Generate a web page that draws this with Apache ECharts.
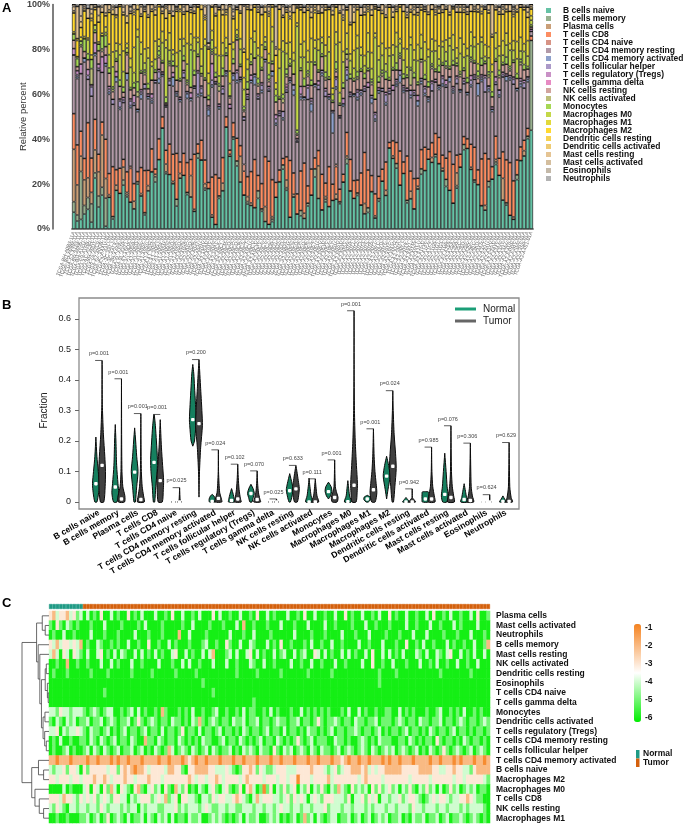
<!DOCTYPE html>
<html><head><meta charset="utf-8">
<script src="https://cdn.jsdelivr.net/npm/echarts@6/dist/echarts.min.js"></script>
<style>html,body{margin:0;padding:0;background:#fff}#c{width:685px;height:828px}</style>
</head><body><div id="c"></div><script>
const FONT = '"Liberation Sans", Arial, sans-serif';

const cellTypes = ['B cells naive','B cells memory','Plasma cells','T cells CD8','T cells CD4 naive','T cells CD4 memory resting','T cells CD4 memory activated','T cells follicular helper','T cells regulatory (Tregs)','T cells gamma delta','NK cells resting','NK cells activated','Monocytes','Macrophages M0','Macrophages M1','Macrophages M2','Dendritic cells resting','Dendritic cells activated','Mast cells resting','Mast cells activated','Eosinophils','Neutrophils'];
const cellColors = ['#66C2A5','#98B08F','#CA9F78','#FC8D62','#D79385','#B29AA8','#8DA0CB','#AB99C8','#C991C6','#E78AC3','#D1A49E','#BCBE79','#A6D854','#C4D848','#E1D93B','#FFD92F','#F6D251','#EECB72','#E5C494','#D4BE9E','#C4B9A9','#B3B3B3'];

const normalIds = 'TCGA-BH-A0B3 TCGA-BH-A0BM TCGA-E2-A153 TCGA-BH-A0H5 TCGA-BH-A1EU TCGA-E9-A1RB TCGA-AC-A23H TCGA-BH-A0DT TCGA-GI-A2C9 TCGA-A7-A0DB'.split(' ');
const tumorIds = ('TCGA-3C-AAAU TCGA-3C-AALI TCGA-3C-AALJ TCGA-3C-AALK TCGA-4H-AAAK TCGA-5L-AAT0 TCGA-5L-AAT1 TCGA-5T-A9QA TCGA-A1-A0SB TCGA-A1-A0SD ' +
 'TCGA-A1-A0SE TCGA-A1-A0SF TCGA-A1-A0SG TCGA-A1-A0SH TCGA-A1-A0SI TCGA-A1-A0SJ TCGA-A1-A0SK TCGA-A1-A0SM TCGA-A1-A0SN TCGA-A1-A0SO ' +
 'TCGA-A1-A0SP TCGA-A1-A0SQ TCGA-A2-A04N TCGA-A2-A04P TCGA-A2-A04Q TCGA-A2-A04R TCGA-A2-A04T TCGA-A2-A04U TCGA-A2-A04V TCGA-A2-A04W ' +
 'TCGA-A2-A04X TCGA-A2-A04Y TCGA-A2-A0CK TCGA-A2-A0CL TCGA-A2-A0CM TCGA-A2-A0CO TCGA-A2-A0CP TCGA-A2-A0CQ TCGA-A2-A0CR TCGA-A2-A0CS ' +
 'TCGA-A2-A0CT TCGA-A2-A0CU TCGA-A2-A0CV TCGA-A2-A0CW TCGA-A2-A0CX TCGA-A2-A0CY TCGA-A2-A0CZ TCGA-A2-A0D0 TCGA-A2-A0D1 TCGA-A2-A0D2 ' +
 'TCGA-A2-A0D3 TCGA-A2-A0D4 TCGA-A2-A0EM TCGA-A2-A0EN TCGA-A2-A0EO TCGA-A2-A0EP TCGA-A2-A0EQ TCGA-A2-A0ER TCGA-A2-A0ES TCGA-A2-A0ET ' +
 'TCGA-A2-A0EU TCGA-A2-A0EV TCGA-A2-A0EW TCGA-A2-A0EX TCGA-A2-A0EY TCGA-A2-A0SU TCGA-A2-A0SV TCGA-A2-A0SW TCGA-A2-A0SX TCGA-A2-A0T0 ' +
 'TCGA-A2-A0T1 TCGA-A2-A0T2 TCGA-A2-A0T3 TCGA-A2-A0T4 TCGA-A2-A0T5 TCGA-A2-A0T6 TCGA-A2-A0T7 TCGA-A2-A0YC TCGA-A2-A0YD TCGA-A2-A0YE ' +
 'TCGA-A2-A0YF TCGA-A2-A0YG TCGA-A2-A0YH TCGA-A2-A0YI TCGA-A2-A0YJ TCGA-A2-A0YK TCGA-A2-A0YL TCGA-A2-A0YM TCGA-A2-A0YT TCGA-A2-A1FV ' +
 'TCGA-A2-A1FW TCGA-A2-A1FX TCGA-A2-A1FZ TCGA-A2-A1G0 TCGA-A2-A1G1 TCGA-A2-A1G4 TCGA-A2-A1G6 TCGA-A2-A259 TCGA-A2-A25A TCGA-A2-A25B ' +
 'TCGA-A2-A25C TCGA-A2-A25D TCGA-A2-A25E TCGA-A2-A25F TCGA-A2-A3KC TCGA-A2-A3KD TCGA-A2-A3XS TCGA-A2-A3XT TCGA-A2-A3XU TCGA-A2-A3XV ' +
 'TCGA-A2-A3XW TCGA-A2-A3XX TCGA-A2-A3XY TCGA-A2-A3XZ TCGA-A2-A3Y0 TCGA-A2-A4RW TCGA-A2-A4RX TCGA-A2-A4RY TCGA-A2-A4S0 TCGA-A2-A4S1').split(' ');
const samples = normalIds.map(s => s + '-11A').concat(tumorIds.map(s => s + '-01A'));
const sampleGroup = samples.map((s, j) => j < normalIds.length ? 'Normal' : 'Tumor');

// ---- Panel A: estimated CIBERSORT fractions (%) per sample ----
const bNaive = [8,4,5,7,10,3,20,10,13,1,12,4,15,17,17,14,12,8,18,14,6,15,25,18,30,45,28,25,20,10,22,22,15,12,8,30,28,18,20,5,2,12,15,40,35,38,25,22,20,10,9,8,12,7,3,2,3,15,20,28,15,5,12,9,5,4,8,13,19,14,7,10,9,14,12,12,18,25,17,12,13,9,6,7,14,5,10,16,13,30,28,26,18,24,10,12,8,15,20,25,28,27,28,30,22,18,15,12,16,24,30,33,26,20,18,10,8,15,20,25,22,12,10,6,4,20,25,28,35,44];
const bMemory = [5,3,25,4,6,8,2,5,3,10,0,1,0,0,2,1,0,0,1,0,1,0,0,2,0,0,1,0,0,3,0,0,1,0,0,2,0,1,0,0,0,1,0,0,0,1,2,0,0,1,0,0,3,1,0,0,1,0,0,2,1,0,0,0,2,0,1,0,3,0,0,1,0,0,0,1,0,2,0,0,1,0,0,2,0,0,1,0,0,0,0,2,0,0,1,0,0,0,2,0,0,0,1,0,0,3,0,0,1,0,2,0,0,1,0,0,0,2,0,1,0,0,1,0,0,2,0,0,1,40];
const plasma = [25,15,8,12,10,5,9,11,20,7,1,0,2,0,5,1,0,3,0,1,0,2,0,1,0,0,4,0,1,0,2,0,0,8,1,0,0,2,0,1,0,0,3,0,1,0,0,12,0,2,1,0,0,0,6,0,1,0,0,0,3,0,1,0,0,2,0,0,0,15,0,1,0,0,2,0,0,1,0,0,0,0,4,0,0,1,0,0,2,0,1,0,0,0,0,3,0,1,0,0,0,2,0,0,1,0,0,0,5,0,0,0,1,0,0,0,2,0,0,1,0,9,0,0,1,0,0,2,0,0];
const cd8 = [17,20,13,10,28,15,12,8,5,14,8,20,6,12,3,9,15,7,4,11,18,6,10,2,9,5,7,14,12,20,5,9,13,6,25,4,8,11,3,16,22,7,10,4,2,6,9,5,14,8,12,18,6,10,20,27,15,7,5,3,9,24,8,12,15,19,6,10,4,7,13,5,16,8,11,6,3,9,14,7,5,12,20,16,6,10,8,4,11,2,6,9,14,5,17,8,12,3,7,10,4,6,8,12,5,9,15,18,7,5,3,4,10,14,6,20,22,8,5,9,7,11,18,23,15,6,5,4,3,2];
const cd4Naive = [0,0,0,0,0,0,0,0,0,0,0,0,0,0,0,0,1,0,0,0,0,0,0,0,0,0,0,0,0,0,0,0,0,0,0,0,0,0,0,0,0,0,0,0,0,0,0,0,4,0,0,0,0,0,0,0,0,0,0,0,0,0,0,0,0,0,0,0,0,0,0,0,0,0,1,0,0,0,0,0,0,0,0,0,0,0,0,0,0,0,0,0,0,0,0,0,0,0,0,0,0,0,0,0,0,0,0,0,0,0,0,0,0,0,0,0,0,0,0,0,0,0,0,0,0,0,0,0,0,0];
const cd4MemRest = [28,33,30,45,22,27,25,38,19,26,30,25,34,28,22,40,26,31,24,29,35,28,20,33,24,18,22,27,30,25,26,31,28,22,30,20,18,29,33,38,40,27,25,16,20,18,22,30,26,31,34,28,30,36,38,30,42,27,23,18,25,33,29,31,27,24,30,22,26,28,36,32,27,25,30,34,26,20,28,33,31,29,24,35,27,33,30,26,22,18,20,24,28,30,25,29,33,27,24,22,19,21,20,22,26,30,27,33,28,24,20,18,25,29,30,33,26,24,22,20,25,31,33,36,40,28,22,20,18,2];
const cd4MemAct = [0,1,0,2,0,0,1,0,0,1,1,0,2,1,0,3,1,0,1,2,0,1,1,0,2,1,0,0,4,1,1,0,2,1,0,1,1,0,3,1,0,1,0,1,0,2,1,1,0,0,1,3,0,1,1,0,2,1,0,1,0,1,2,0,1,1,0,3,1,0,1,0,1,10,1,0,1,2,0,1,1,1,0,0,2,1,1,0,1,0,0,1,3,1,0,1,0,2,1,1,1,0,0,1,1,0,2,1,0,1,0,1,1,0,5,1,0,1,1,0,1,0,2,1,0,1,1,0,1,0];
const tfh = [0,1,0,0,2,4,0,1,0,0,1,2,0,3,1,0,2,1,0,1,2,0,1,1,3,0,1,2,0,1,0,2,1,0,1,9,2,0,1,2,1,0,2,1,0,1,3,0,2,1,0,1,1,2,0,1,0,2,1,3,1,0,2,1,1,0,4,1,0,2,1,2,0,1,3,1,0,2,1,0,2,1,1,0,1,2,0,1,3,1,0,1,2,1,0,2,1,0,1,2,1,3,0,1,2,1,0,1,2,0,1,0,2,1,0,1,6,1,0,1,2,1,0,1,2,0,1,2,1,0];
const tregs = [3,2,5,0,3,1,4,2,6,3,1,0,2,1,1,0,1,3,0,1,0,1,2,0,1,1,0,1,2,0,1,1,0,2,0,1,1,0,1,7,0,1,1,0,2,0,1,1,0,1,2,0,1,1,0,1,0,2,1,0,1,1,0,1,3,0,1,1,0,2,0,1,1,0,1,0,2,1,1,0,1,0,1,2,0,1,1,0,1,1,2,1,0,1,1,0,1,2,0,1,0,1,1,0,1,2,0,1,1,0,1,0,2,1,0,1,1,0,1,2,0,1,1,0,1,0,1,1,0,1];
const gammaDelta = [0,0,0,0,0,0,0,0,0,0,0,0,0,0,0,0,0,0,0,0,0,0,0,0,0,0,0,0,0,0,0,0,0,0,0,0,0,0,0,0,0,0,0,0,0,0,0,0,0,0,0,0,0,0,0,0,0,0,0,0,1,0,0,0,0,0,0,0,0,0,0,0,0,0,0,0,0,0,0,0,0,0,0,0,0,0,0,0,0,0,0,0,0,0,0,0,0,0,0,0,0,0,0,0,0,0,0,0,0,0,0,0,0,0,0,0,0,0,0,0,0,0,0,0,0,0,0,0,0,0];
const nkRest = [4,2,9,3,5,0,4,6,2,3,5,3,4,6,2,8,4,3,5,7,4,2,6,3,5,4,1,6,3,5,7,4,3,2,5,6,4,8,3,4,2,5,4,6,3,4,12,5,3,2,4,6,3,5,4,2,3,6,5,4,3,5,4,2,6,4,3,5,7,4,5,3,6,4,2,5,4,3,6,5,4,7,3,5,4,6,2,4,5,3,6,4,5,3,4,2,5,4,6,3,4,5,3,6,4,5,3,10,4,5,3,4,6,5,2,4,5,3,4,6,5,3,4,2,6,4,5,4,3,1];
const nkAct = [0,0,1,0,0,7,0,0,1,0,0,1,0,0,0,1,0,0,2,0,1,0,0,0,1,0,0,1,0,0,0,0,1,0,0,0,1,0,0,1,0,2,0,0,1,0,0,0,1,0,0,0,1,0,0,1,0,0,0,2,1,0,0,1,0,0,1,0,0,0,0,1,0,0,1,0,0,2,0,0,1,0,0,0,1,0,0,1,0,0,0,0,1,0,0,6,0,0,1,0,0,1,0,0,0,1,0,0,0,1,0,0,1,0,1,0,0,1,0,0,1,0,0,1,0,0,1,0,0,0];
const monocytes = [3,4,2,6,3,4,1,3,5,4,2,1,1,3,2,0,1,2,4,1,1,2,0,1,2,1,3,1,2,0,1,2,1,14,2,1,0,1,2,1,2,1,3,1,0,2,1,1,2,3,1,0,2,1,1,2,1,3,1,2,2,1,0,2,1,3,1,2,1,1,1,2,1,1,3,1,2,0,2,1,2,1,2,1,1,0,2,1,3,1,1,3,1,2,1,1,2,1,0,2,2,1,1,3,1,2,1,2,1,1,1,2,1,1,2,3,1,1,2,1,2,1,3,1,1,2,1,2,1,1];
const m0 = [0,1,0,0,7,0,2,0,0,1,5,8,3,12,6,2,9,4,18,7,3,10,6,4,2,8,25,5,3,6,12,4,7,2,9,5,3,15,6,4,8,3,5,2,6,4,1,7,10,5,3,6,9,4,2,5,8,3,12,20,6,2,5,62,4,8,3,7,5,9,4,6,10,3,7,5,8,2,6,4,9,5,3,7,4,28,6,5,3,8,5,7,4,6,3,9,5,8,4,6,10,5,7,3,6,4,8,5,2,7,4,9,5,6,3,7,2,5,8,4,6,3,5,7,4,6,3,5,4,2];
const m1 = [1,0,2,1,1,2,0,1,1,2,4,6,3,5,8,2,4,10,3,5,6,4,2,7,3,5,4,8,2,6,5,3,9,4,6,2,7,3,5,4,3,8,5,4,6,3,2,5,7,4,6,4,3,5,2,4,6,3,8,5,4,7,3,2,5,6,4,9,3,5,2,4,6,3,5,24,4,6,3,7,5,3,4,8,6,2,5,4,6,3,4,6,2,5,7,3,4,6,5,8,3,5,4,6,2,5,3,7,4,6,5,3,6,4,8,2,5,4,3,6,4,6,5,3,4,7,5,3,6,2];
const m2 = [9,8,5,12,10,15,6,9,8,4,12,15,10,18,14,9,20,13,8,11,16,12,22,10,14,8,11,9,15,18,12,10,14,8,11,13,16,9,12,10,14,18,11,9,13,10,8,12,15,20,11,9,14,12,10,16,8,13,17,11,12,10,15,9,13,11,14,8,10,12,9,13,11,36,10,14,12,9,13,11,10,12,16,9,14,11,13,10,12,15,11,9,13,16,12,10,14,11,9,13,14,12,10,15,11,13,9,12,14,10,12,14,9,11,13,10,15,12,11,9,13,11,9,14,10,12,11,13,9,3];
const dcRest = [0,1,0,0,0,1,0,0,0,0,0,0,1,0,0,0,0,1,0,0,0,0,0,0,1,0,0,0,0,0,1,0,0,0,0,0,0,1,0,0,0,0,0,1,0,0,0,0,0,0,0,0,0,0,0,1,0,0,0,0,0,1,0,0,0,0,0,0,1,0,0,0,0,0,0,0,1,0,0,0,0,0,0,1,0,0,0,0,0,0,0,0,0,0,0,0,0,1,0,0,0,0,1,0,0,0,0,0,0,0,0,0,0,0,0,1,0,0,0,0,0,0,0,0,1,0,0,0,0,0];
const dcAct = [1,0,3,1,0,2,1,3,0,1,1,2,0,1,1,3,0,1,2,1,0,1,1,2,0,1,5,1,0,1,2,1,0,1,1,0,2,1,1,0,1,0,2,1,18,1,0,1,2,1,0,1,1,0,2,1,1,3,0,1,1,2,0,1,1,0,1,2,1,1,0,1,1,2,0,1,1,0,1,4,1,0,1,1,2,1,0,1,1,0,2,1,1,0,1,1,2,0,1,1,1,0,1,2,1,0,1,1,0,2,1,1,0,1,1,2,0,1,1,0,1,2,1,0,1,1,0,1,2,1];
const mastRest = [2,16,3,1,5,2,0,4,2,3,2,1,3,0,2,5,1,2,0,3,1,4,2,1,0,2,1,3,2,1,0,2,3,1,2,1,0,4,2,1,3,1,2,0,1,2,1,3,25,1,2,0,1,3,1,2,0,1,2,4,1,2,3,1,0,2,1,2,1,3,2,1,0,2,1,3,2,1,8,2,1,3,2,1,2,0,1,2,3,1,2,1,0,3,1,2,1,2,1,0,3,2,1,1,2,1,3,0,2,1,1,2,3,1,2,1,0,2,12,1,2,1,2,3,1,2,1,0,2,1];
const mastAct = [1,0,6,1,0,2,1,0,1,0,0,1,0,0,1,0,2,0,0,1,1,0,0,1,0,0,1,0,3,0,0,1,0,0,1,0,0,1,0,0,1,0,0,2,0,1,0,0,1,0,0,0,1,0,0,1,0,19,0,1,0,1,0,0,1,0,0,1,0,0,1,0,0,1,0,0,2,0,0,1,0,0,1,0,0,1,0,0,1,0,0,1,0,0,2,0,1,0,0,1,0,0,1,0,0,1,0,0,1,0,1,0,0,1,0,0,1,0,0,1,0,1,0,0,1,0,0,1,0,0];
const eosinophils = [0,0,0,0,0,0,0,0,0,0,0,0,0,0,0,0,0,0,0,0,0,0,0,0,0,0,0,0,0,0,0,0,0,0,0,0,0,0,0,0,0,0,0,0,0,2,0,0,0,0,0,0,0,0,0,0,0,0,0,0,0,0,0,0,0,0,0,0,0,0,0,0,0,0,0,0,0,0,0,0,0,0,0,0,0,0,0,0,0,0,0,0,0,0,0,0,0,1,0,0,0,0,0,0,0,0,0,0,0,0,0,0,0,0,0,0,0,0,0,0,0,0,0,0,0,0,0,0,0,0];
const neutrophils = [0,1,0,0,2,0,0,1,0,0,0,0,1,0,0,0,1,0,0,0,1,0,0,0,0,1,0,0,0,1,0,0,0,1,0,0,0,0,19,0,0,1,0,0,0,0,1,0,0,0,0,0,0,1,0,0,0,1,0,0,1,0,0,0,0,1,0,0,0,0,0,0,1,0,0,0,0,1,0,0,0,1,0,0,0,0,1,0,0,0,1,0,0,0,1,0,0,0,0,1,0,0,0,1,0,0,0,1,0,0,0,1,0,0,0,0,1,0,0,0,1,0,0,0,1,0,0,0,1,0];
const fractions = [bNaive,bMemory,plasma,cd8,cd4Naive,cd4MemRest,cd4MemAct,tfh,tregs,gammaDelta,nkRest,nkAct,monocytes,m0,m1,m2,dcRest,dcAct,mastRest,mastAct,eosinophils,neutrophils];
const sampleTotals = samples.map((s, j) => fractions.reduce((acc, arr) => acc + arr[j], 0));

// ---- Panel B: violin profiles [fraction, relative density], medians, p-values ----
const violinNormal = [
 [[0,.3],[.03,.8],[.06,1],[.1,.7],[.15,.3],[.213,0]],
 [[0,.5],[.03,1],[.06,.8],[.12,.4],[.2,.2],[.254,0]],
 [[0,.2],[.05,.6],[.1,1],[.15,.6],[.2,.3],[.243,0]],
 [[0,.2],[.05,.5],[.1,.9],[.14,1],[.2,.7],[.25,.4],[.287,.05]],
 [[0,.6],[.002,0]],
 [[.183,0],[.2,.5],[.25,.9],[.27,1],[.32,.8],[.38,.5],[.42,.3],[.451,0]],
 [[0,.8],[.01,.9],[.02,.5],[.025,0]],
 [[0,.9],[.01,.8],[.025,.5],[.044,0]],
 [[0,.3],[.015,.7],[.028,1],[.045,.6],[.058,0]],
 [[0,.6],[.001,0]],
 [[0,.2],[.02,.7],[.04,1],[.06,.7],[.093,0]],
 [[0,1],[.02,.6],[.05,.25],[.078,0]],
 [[.01,0],[.02,.6],[.035,1],[.05,.8],[.065,0]],
 [[0,1],[.02,.5],[.05,.2],[.07,0]],
 [[0,.3],[.008,1],[.016,.9],[.022,0]],
 [[.01,0],[.04,.4],[.085,1],[.12,.6],[.15,0]],
 [[0,1],[.008,.5],[.015,0]],
 [[0,.9],[.01,1],[.025,1],[.033,.9],[.034,0]],
 [[0,.6],[.02,1],[.05,.7],[.1,.4],[.16,0]],
 [[0,1],[.015,.7],[.035,.4],[.06,0]],
 [[0,.5],[.001,0]],
 [[0,1],[.01,.5],[.02,0]]
];
const violinTumor = [
 [[0,.5],[.05,.9],[.1,1],[.15,.8],[.22,.4],[.3,.12],[.34,.05],[.464,0]],
 [[0,.9],[.02,1],[.05,.4],[.1,.15],[.2,.06],[.404,0]],
 [[0,1],[.02,.8],[.05,.4],[.1,.15],[.2,.05],[.29,0]],
 [[0,.6],[.04,.9],[.07,1],[.12,.7],[.18,.35],[.27,0]],
 [[0,.6],[.003,.2],[.047,0]],
 [[.016,0],[.1,.15],[.18,.5],[.25,1],[.3,.85],[.38,.45],[.43,.2],[.467,0]],
 [[0,1],[.01,.9],[.03,.4],[.06,.2],[.1,.05],[.171,0]],
 [[0,1],[.01,.8],[.04,.4],[.08,.15],[.124,0]],
 [[0,1],[.01,.8],[.03,.4],[.06,.15],[.102,0]],
 [[0,.6],[.002,.2],[.01,0]],
 [[0,.4],[.02,.8],[.045,1],[.07,.7],[.1,.3],[.12,0]],
 [[0,1],[.02,.5],[.05,.2],[.076,0]],
 [[0,.7],[.015,1],[.03,.6],[.05,.2],[.138,0]],
 [[0,.6],[.03,.9],[.06,1],[.12,.7],[.2,.35],[.3,.12],[.45,.03],[.627,0]],
 [[0,.5],[.03,1],[.06,.8],[.1,.45],[.15,.2],[.24,0]],
 [[0,.2],[.05,.6],[.11,1],[.16,.8],[.22,.4],[.3,.12],[.365,0]],
 [[0,1],[.008,.5],[.015,.05],[.043,0]],
 [[0,1],[.02,.8],[.05,.35],[.1,.1],[.18,0]],
 [[0,1],[.02,.8],[.05,.4],[.1,.15],[.25,0]],
 [[0,1],[.02,.6],[.05,.25],[.193,0]],
 [[0,.5],[.003,.1],[.024,0]],
 [[0,1],[.015,.6],[.05,.2],[.195,0]]
];
const medianNormal = [.06,.049,.098,.13,0,.27,.002,.005,.028,0,.037,0,.034,.001,.01,.085,0,.01,.025,.008,0,.002];
const medianTumor = [.12,.01,.008,.07,0,.257,.012,.01,.008,0,.043,0,.015,.055,.04,.117,0,.01,.015,.005,0,.002];
const bracketTop = [.464,.404,.29,.287,.047,.467,.171,.124,.102,.01,.12,.076,.138,.627,.24,.365,.043,.18,.25,.193,.024,.195];
const pLabels = ['p=0.001','p=0.001','p=0.001','p=0.001','p=0.025','p=0.200','p=0.024','p=0.102','p=0.070','p=0.025','p=0.633','p=0.111','p=0.001','p=0.001','p=0.001','p=0.024','p=0.942','p=0.985','p=0.076','p=0.306','p=0.624','p=0.629'];

// ---- Panel C: heatmap rows (log-scaled fractions), clustered order ----
const heatRows = ['Plasma cells','Mast cells activated','Neutrophils','B cells memory','Mast cells resting','NK cells activated','Dendritic cells resting','Eosinophils','T cells CD4 naive','T cells gamma delta','Monocytes','Dendritic cells activated','T cells regulatory (Tregs)','T cells CD4 memory resting','T cells follicular helper','T cells CD4 memory activated','B cells naive','Macrophages M2','Macrophages M0','T cells CD8','NK cells resting','Macrophages M1'];
const hPlasma = [-3,-2,-4,-3,-3,-2,-4,-3,-5,-4,-6,-4,-6,-5,-6,-3,-6,-6,-4,-6,-5,-6,-6,-3,-6,-5,-6,-4,-6,-6,-6,-4,-6,-6,-5,-6,-3,-6,-6,-4,-6,-6,-5,-6,-4,-6,-6,-6,-3,-6,-4,-6,-6,-5,-6,-6,-4,-6,-6,-5,-6,-3,-6,-6,-4,-6,-5,-6,-6,-6,-4,-6,-6,-5,-6,-3,-6,-6,-4,-6,-6,-5,-6,-6,-4,-6,-6,-3,-6,-5,-6,-6,-4,-6,-6,-5,-6,-4,-6,-6,-3,-6,-5,-6,-6,-4,-6,-6,-5,-6,-6,-4,-6,-3,-6,-6,-5,-6,-4,-6,-6,-5,-6,-6,-4,-6,-3,-6,-6,-5];
const hMastAct = [-5,-6,-3,-5,-6,-4,-5,-6,-5,-6,-6,-6,-5,-6,-6,-6,-4,-6,-6,-6,-6,-5,-6,-6,-6,-6,-5,-6,-4,-6,-6,-6,-6,-5,-6,-6,-6,-6,-6,-5,-6,-6,-4,-6,-6,-6,-6,-5,-6,-6,-6,-5,-6,-6,-6,-4,-6,-2,-6,-6,-5,-6,-6,-6,-5,-6,-6,-6,-4,-6,-6,-6,-5,-6,-6,-6,-4,-6,-6,-6,-6,-4,-6,-6,-5,-6,-6,-6,-6,-5,-6,-6,-6,-4,-6,-6,-5,-6,-6,-6,-5,-6,-6,-6,-6,-4,-6,-6,-5,-6,-6,-6,-4,-6,-6,-5,-6,-6,-6,-4,-6,-5,-6,-6,-6,-6,-4,-6,-6,-6];
const hNeutro = [-6,-5,-6,-6,-4,-6,-6,-5,-6,-6,-6,-6,-4,-6,-6,-6,-5,-6,-6,-6,-5,-6,-6,-6,-6,-4,-6,-6,-6,-5,-6,-6,-6,-5,-6,-6,-6,-6,-2,-6,-6,-4,-6,-6,-6,-6,-5,-6,-6,-6,-6,-6,-6,-4,-6,-6,-6,-5,-6,-6,-4,-6,-6,-6,-6,-5,-6,-6,-6,-6,-6,-6,-4,-6,-6,-6,-6,-5,-6,-6,-6,-5,-6,-6,-6,-6,-4,-6,-6,-6,-5,-6,-6,-6,-4,-6,-6,-6,-6,-5,-6,-6,-6,-5,-6,-6,-6,-4,-6,-6,-6,-4,-6,-6,-6,-6,-5,-6,-6,-6,-5,-6,-6,-6,-4,-6,-6,-6,-5,-6];
const hBMemory = [-3,-4,-2,-4,-3,-3,-4,-3,-4,-2,-6,-5,-6,-6,-4,-5,-6,-6,-5,-6,-5,-6,-6,-4,-6,-6,-5,-6,-6,-3,-6,-6,-5,-6,-6,-4,-6,-5,-6,-6,-6,-5,-6,-6,-6,-5,-4,-6,-6,-5,-6,-6,-3,-5,-6,-6,-4,-6,-6,-4,-5,-6,-6,-6,-4,-6,-5,-6,-3,-6,-6,-5,-6,-6,-6,-5,-6,-4,-6,-6,-5,-6,-6,-4,-6,-6,-5,-6,-6,-6,-6,-4,-6,-6,-5,-6,-6,-6,-4,-6,-6,-6,-5,-6,-6,-3,-6,-6,-5,-6,-4,-6,-6,-5,-6,-6,-6,-4,-6,-5,-6,-6,-5,-6,-6,-4,-6,-6,-5,-2];
const hMastRest = [-4,-2,-4,-6,-3,-4,-6,-3,-4,-5,-6,-4,-6,-6,-4,-3,-6,-5,-6,-4,-6,-4,-5,-6,-6,-4,-6,-4,-6,-5,-6,-4,-6,-5,-6,-6,-4,-3,-6,-6,-4,-6,-5,-6,-6,-4,-6,-4,-2,-6,-6,-6,-5,-4,-6,-4,-6,-6,-4,-3,-6,-4,-6,-5,-6,-6,-4,-6,-5,-4,-6,-6,-4,-6,-5,-4,-6,-6,-3,-4,-6,-4,-6,-5,-6,-6,-4,-6,-4,-6,-5,-6,-6,-4,-6,-3,-6,-6,-4,-6,-4,-6,-5,-6,-4,-6,-6,-6,-4,-5,-6,-4,-6,-6,-4,-5,-6,-4,-3,-6,-6,-4,-6,-5,-6,-4,-6,-6,-4,-6];
const hNkAct = [-6,-6,-5,-6,-6,-2,-6,-6,-5,-6,-6,-5,-6,-6,-6,-4,-6,-6,-4,-6,-5,-6,-6,-6,-4,-6,-6,-5,-6,-6,-6,-6,-4,-6,-6,-6,-5,-6,-6,-4,-6,-4,-6,-6,-5,-6,-6,-6,-4,-6,-6,-6,-4,-6,-6,-5,-6,-6,-6,-4,-5,-6,-6,-4,-6,-6,-5,-6,-6,-6,-6,-4,-6,-6,-5,-6,-6,-4,-6,-6,-5,-6,-6,-6,-4,-6,-6,-5,-6,-6,-6,-6,-4,-6,-6,-3,-6,-6,-5,-6,-6,-4,-6,-6,-6,-5,-6,-6,-6,-4,-6,-6,-5,-6,-4,-6,-6,-5,-6,-6,-4,-6,-6,-5,-6,-6,-4,-6,-6,-6];
const hDcRest = [-6,-5,-6,-6,-6,-5,-6,-6,-6,-6,-6,-6,-5,-6,-6,-6,-6,-5,-6,-6,-6,-6,-6,-6,-5,-6,-6,-6,-6,-6,-5,-6,-6,-6,-6,-6,-6,-5,-6,-6,-6,-6,-6,-5,-6,-6,-6,-6,-6,-6,-6,-6,-6,-6,-6,-5,-6,-6,-6,-6,-6,-5,-6,-6,-6,-6,-6,-6,-5,-6,-6,-6,-6,-6,-6,-6,-5,-6,-6,-6,-6,-6,-6,-5,-6,-6,-6,-6,-6,-6,-6,-6,-6,-6,-6,-6,-6,-5,-6,-6,-6,-6,-5,-6,-6,-6,-6,-6,-6,-6,-6,-6,-6,-6,-6,-5,-6,-6,-6,-6,-6,-6,-6,-6,-5,-6,-6,-6,-6,-6];
const hEos = [-6,-6,-6,-6,-6,-6,-6,-6,-6,-6,-6,-6,-6,-6,-6,-6,-6,-6,-6,-6,-6,-6,-6,-6,-6,-6,-6,-6,-6,-6,-6,-6,-6,-6,-6,-6,-6,-6,-6,-6,-6,-6,-6,-6,-6,-5,-6,-6,-6,-6,-6,-6,-6,-6,-6,-6,-6,-6,-6,-6,-6,-6,-6,-6,-6,-6,-6,-6,-6,-6,-6,-6,-6,-6,-6,-6,-6,-6,-6,-6,-6,-6,-6,-6,-6,-6,-6,-6,-6,-6,-6,-6,-6,-6,-6,-6,-6,-5,-6,-6,-6,-6,-6,-6,-6,-6,-6,-6,-6,-6,-6,-6,-6,-6,-6,-6,-6,-6,-6,-6,-6,-6,-6,-6,-6,-6,-6,-6,-6,-6];
const hCd4Naive = [-6,-6,-6,-6,-6,-6,-6,-6,-6,-6,-6,-6,-6,-6,-6,-6,-5,-6,-6,-6,-6,-6,-6,-6,-6,-6,-6,-6,-6,-6,-6,-6,-6,-6,-6,-6,-6,-6,-6,-6,-6,-6,-6,-6,-6,-6,-6,-6,-5,-6,-6,-6,-6,-6,-6,-6,-6,-6,-6,-6,-6,-6,-6,-6,-6,-6,-6,-6,-6,-6,-6,-6,-6,-6,-6,-6,-6,-6,-6,-6,-6,-6,-6,-6,-6,-6,-6,-6,-6,-6,-6,-6,-6,-6,-6,-6,-6,-6,-6,-6,-6,-6,-6,-6,-6,-6,-6,-6,-6,-6,-6,-6,-6,-6,-6,-6,-6,-6,-6,-6,-6,-6,-6,-6,-6,-6,-6,-6,-6,-6];
const hGammaDelta = [-6,-6,-6,-6,-6,-6,-6,-6,-6,-6,-6,-6,-6,-6,-6,-6,-6,-6,-6,-6,-6,-6,-6,-6,-6,-6,-6,-6,-6,-6,-6,-6,-6,-6,-6,-6,-6,-6,-6,-6,-6,-6,-6,-6,-6,-6,-6,-6,-6,-6,-6,-6,-6,-6,-6,-6,-6,-6,-6,-6,-5,-6,-6,-6,-6,-6,-6,-6,-6,-6,-6,-6,-6,-6,-6,-6,-6,-6,-6,-6,-6,-6,-6,-6,-6,-6,-6,-6,-6,-6,-6,-6,-6,-6,-6,-6,-6,-6,-6,-6,-6,-6,-6,-6,-6,-6,-6,-6,-6,-6,-6,-6,-6,-6,-6,-6,-6,-6,-6,-6,-6,-6,-6,-6,-6,-6,-6,-6,-6,-6];
const hMono = [-4,-4,-5,-3,-4,-4,-5,-4,-4,-4,-5,-6,-5,-4,-5,-6,-5,-4,-4,-6,-6,-5,-6,-5,-4,-6,-4,-6,-5,-6,-6,-5,-6,-2,-5,-6,-6,-6,-5,-6,-5,-6,-4,-6,-6,-5,-6,-6,-5,-4,-6,-6,-5,-6,-6,-5,-6,-4,-6,-5,-5,-6,-6,-5,-6,-4,-6,-5,-6,-6,-6,-5,-6,-6,-4,-6,-5,-6,-5,-6,-5,-6,-5,-6,-6,-6,-5,-6,-4,-6,-6,-4,-6,-5,-6,-6,-5,-6,-6,-5,-5,-6,-6,-4,-6,-5,-6,-5,-6,-6,-6,-5,-6,-6,-5,-4,-6,-6,-5,-6,-5,-6,-4,-6,-6,-5,-6,-5,-6,-6];
const hDcAct = [-5,-6,-4,-5,-6,-4,-5,-4,-6,-5,-5,-4,-6,-5,-5,-4,-6,-5,-4,-5,-6,-5,-5,-4,-6,-5,-3,-5,-6,-5,-4,-5,-6,-5,-5,-6,-4,-5,-5,-6,-5,-6,-4,-5,-2,-5,-6,-5,-4,-5,-6,-5,-5,-6,-4,-5,-5,-4,-6,-5,-5,-4,-6,-5,-5,-6,-5,-4,-5,-5,-6,-5,-5,-4,-6,-5,-5,-6,-5,-3,-5,-6,-5,-5,-4,-5,-6,-5,-5,-6,-4,-5,-5,-6,-5,-5,-4,-6,-5,-5,-5,-6,-5,-4,-5,-6,-5,-5,-6,-4,-5,-5,-6,-5,-5,-4,-6,-5,-5,-6,-5,-4,-5,-6,-5,-5,-6,-5,-4,-5];
const hTregs = [-4,-4,-3,-6,-4,-5,-4,-4,-3,-4,-5,-6,-4,-5,-5,-6,-5,-4,-6,-5,-6,-5,-4,-6,-5,-5,-6,-5,-4,-6,-5,-5,-6,-4,-6,-5,-5,-6,-5,-3,-6,-5,-5,-6,-4,-6,-5,-5,-6,-5,-4,-6,-5,-5,-6,-5,-6,-4,-5,-6,-5,-5,-6,-5,-4,-6,-5,-5,-6,-4,-6,-5,-5,-6,-5,-6,-4,-5,-5,-6,-5,-6,-5,-4,-6,-5,-5,-6,-5,-5,-4,-5,-6,-5,-5,-6,-5,-4,-6,-5,-6,-5,-5,-6,-5,-4,-6,-5,-5,-6,-5,-6,-4,-5,-6,-5,-5,-6,-5,-4,-6,-5,-5,-6,-5,-6,-5,-5,-6,-5];
const hCd4MemRest = [-6,-5,-6,-4,-6,-6,-5,-6,-6,-5,-5,-6,-4,-5,-6,-4,-5,-6,-5,-4,-6,-5,-5,-6,-4,-5,-6,-6,-2,-5,-5,-6,-4,-5,-6,-5,-5,-6,-4,-5,-6,-5,-6,-5,-6,-4,-5,-5,-6,-6,-5,-4,-6,-5,-5,-6,-4,-5,-6,-5,-6,-5,-4,-6,-5,-5,-6,-4,-5,-6,-5,-6,-5,-3,-5,-6,-5,-4,-6,-5,-5,-5,-6,-6,-4,-5,-5,-6,-5,-6,-6,-5,-4,-5,-6,-5,-6,-4,-5,-5,-5,-6,-6,-5,-5,-6,-4,-5,-6,-5,-6,-5,-5,-6,-3,-5,-6,-5,-5,-6,-5,-6,-4,-5,-6,-5,-5,-6,-5,-6];
const hTfh = [-6,-5,-6,-6,-5,-4,-6,-5,-6,-6,-5,-4,-6,-4,-5,-6,-4,-5,-6,-5,-4,-6,-5,-5,-4,-6,-5,-4,-6,-5,-6,-4,-5,-6,-5,-2,-4,-6,-5,-4,-5,-6,-4,-5,-6,-5,-4,-6,-4,-5,-6,-5,-5,-4,-6,-5,-6,-4,-5,-4,-5,-6,-4,-5,-5,-6,-3,-5,-6,-4,-5,-4,-6,-5,-4,-5,-6,-4,-5,-6,-4,-5,-5,-6,-5,-4,-6,-5,-4,-5,-6,-5,-4,-5,-6,-4,-5,-6,-5,-4,-5,-4,-6,-5,-4,-5,-6,-5,-4,-6,-5,-6,-4,-5,-6,-5,-3,-5,-6,-5,-4,-5,-6,-5,-4,-6,-5,-4,-5,-6];
const hCd4MemAct = [-2,-2,-1,-2,-2,-2,-1,-2,-2,-2,-2,-1,-2,-2,-1,-2,-2,-2,-1,-2,-1,-2,-2,-1,-2,-2,-2,-1,-2,-2,-2,-2,-1,-2,-2,-1,-2,-2,-2,-1,-2,-3,-2,-1,-2,-2,-1,-2,-2,-2,-1,-2,-2,-2,-1,-2,-2,-1,-2,-2,-2,-1,-2,-2,-2,-1,-2,-2,-1,-2,-2,-2,-1,-2,-2,-2,-1,-2,-2,-1,-2,-2,-2,-1,-2,-2,-3,-2,-1,-2,-2,-1,-2,-2,-1,-2,-2,-2,-1,-2,-1,-2,-2,-1,-2,-2,-2,-1,-2,-2,-2,-2,-1,-2,-2,-1,-2,-2,-2,-1,-2,-1,-2,-2,-2,-1,-2,-2,-1,-2];
const hBNaive = [-4,-5,-4,-4,-3,-5,-3,-3,-4,-6,-3,-5,-3,-3,-3,-3,-3,-4,-3,-3,-5,-3,-2,-3,-2,-1,-2,-2,-3,-4,-3,-3,-3,-3,-4,-2,-2,-3,-3,-5,-6,-3,-3,-2,-2,-2,-2,-3,-3,-4,-4,-4,-3,-4,-5,-6,-5,-3,-3,-2,-3,-5,-3,-4,-5,-5,-4,-3,-3,-3,-4,-4,-4,-3,-3,-3,-3,-2,-3,-3,-3,-4,-5,-4,-3,-5,-4,-3,-3,-2,-2,-2,-3,-2,-4,-3,-4,-3,-3,-2,-2,-2,-2,-2,-3,-3,-3,-3,-3,-2,-2,-2,-2,-3,-3,-4,-4,-3,-3,-2,-3,-3,-4,-4,-5,-3,-2,-2,-2,-2];
const hM2 = [-3,-3,-4,-3,-3,-3,-4,-3,-3,-4,-3,-3,-3,-2,-3,-3,-2,-3,-4,-3,-3,-3,-2,-3,-3,-4,-3,-3,-3,-2,-3,-3,-3,-4,-3,-3,-3,-3,-3,-3,-3,-2,-3,-4,-3,-3,-4,-3,-3,-2,-3,-4,-3,-3,-3,-3,-4,-3,-2,-3,-3,-3,-3,-4,-3,-3,-3,-4,-3,-3,-4,-3,-3,-1,-3,-3,-3,-4,-3,-3,-3,-3,-2,-4,-3,-3,-3,-3,-3,-3,-3,-4,-3,-2,-3,-3,-3,-3,-4,-3,-3,-3,-3,-3,-3,-3,-4,-3,-3,-3,-3,-3,-4,-3,-3,-3,-3,-3,-3,-4,-3,-3,-4,-3,-3,-3,-3,-3,-4,-5];
const hM0 = [-6,-6,-6,-6,-4,-6,-5,-6,-6,-6,-4,-3,-6,-3,-4,-6,-3,-5,-2,-4,-6,-3,-4,-5,-6,-3,-2,-5,-6,-4,-3,-5,-4,-6,-3,-5,-6,-2,-4,-5,-3,-6,-5,-6,-4,-5,-6,-4,-3,-5,-6,-4,-3,-5,-6,-5,-3,-6,-3,-2,-4,-6,-5,-1,-5,-3,-6,-4,-5,-3,-5,-4,-3,-6,-4,-5,-3,-6,-4,-5,-3,-5,-6,-4,-5,-2,-4,-5,-6,-3,-5,-4,-5,-4,-6,-3,-5,-3,-5,-4,-3,-5,-4,-6,-4,-5,-3,-5,-6,-4,-5,-3,-5,-4,-6,-4,-6,-5,-3,-5,-4,-6,-5,-4,-5,-4,-6,-5,-5,-6];
const hCd8 = [-3,-3,-3,-4,-2,-3,-3,-4,-5,-3,-4,-3,-4,-3,-5,-4,-3,-4,-5,-3,-3,-4,-4,-6,-4,-5,-4,-3,-3,-3,-5,-4,-3,-4,-2,-5,-4,-3,-6,-3,-3,-4,-4,-5,-6,-4,-4,-5,-3,-4,-3,-3,-4,-4,-3,-2,-3,-4,-5,-6,-4,-2,-4,-3,-3,-3,-4,-4,-5,-4,-3,-5,-3,-4,-3,-4,-6,-4,-3,-4,-5,-3,-3,-3,-4,-4,-4,-5,-3,-6,-4,-4,-3,-5,-3,-4,-3,-6,-4,-4,-5,-4,-4,-3,-5,-4,-3,-3,-4,-5,-6,-5,-4,-3,-4,-3,-3,-4,-5,-4,-4,-3,-3,-2,-3,-4,-5,-5,-6,-6];
const hNkRest = [-4,-5,-3,-4,-5,-6,-4,-4,-5,-4,-4,-5,-4,-4,-5,-3,-4,-5,-4,-4,-4,-5,-4,-5,-4,-4,-6,-4,-5,-4,-4,-4,-5,-5,-4,-4,-4,-3,-5,-4,-5,-4,-4,-4,-5,-4,-3,-4,-5,-5,-4,-4,-5,-4,-4,-5,-5,-4,-4,-4,-5,-4,-4,-5,-4,-4,-5,-4,-3,-4,-4,-5,-4,-4,-5,-4,-4,-5,-4,-4,-4,-3,-5,-4,-4,-4,-5,-4,-4,-5,-4,-4,-4,-5,-4,-5,-4,-4,-4,-5,-4,-4,-5,-4,-4,-4,-5,-3,-4,-4,-5,-4,-4,-4,-5,-4,-4,-5,-4,-4,-4,-5,-4,-5,-4,-4,-4,-4,-5,-6];
const hM1 = [-6,-6,-5,-6,-6,-5,-6,-6,-6,-5,-5,-4,-6,-5,-4,-6,-5,-3,-6,-5,-4,-5,-6,-4,-6,-5,-5,-4,-6,-4,-5,-6,-4,-5,-4,-6,-4,-6,-5,-5,-6,-4,-5,-5,-4,-6,-6,-5,-4,-5,-4,-5,-6,-5,-6,-5,-4,-6,-4,-5,-5,-4,-6,-6,-5,-4,-5,-4,-6,-5,-6,-5,-4,-6,-5,-2,-5,-4,-6,-4,-5,-6,-5,-4,-4,-6,-5,-5,-4,-6,-5,-4,-6,-5,-4,-6,-5,-4,-5,-4,-6,-5,-5,-4,-6,-5,-6,-4,-5,-5,-4,-6,-5,-5,-4,-6,-5,-4,-6,-5,-5,-4,-5,-6,-5,-4,-5,-6,-5,-6];
const heatValues = [hPlasma,hMastAct,hNeutro,hBMemory,hMastRest,hNkAct,hDcRest,hEos,hCd4Naive,hGammaDelta,hMono,hDcAct,hTregs,hCd4MemRest,hTfh,hCd4MemAct,hBNaive,hM2,hM0,hCd8,hNkRest,hM1];
// row dendrogram: [child a, child b, merge height]; leaves 0-21, merged nodes numbered from 22
const dendroMerges = [[1,2,1.4],[0,22,2.5],[8,9,0.3],[7,24,0.6],[5,6,1.0],[26,25,1.4],[13,14,1.0],[12,28,1.6],[10,11,1.5],[30,29,2.2],[27,31,2.8],[4,32,3.4],[3,33,4.0],[23,34,4.6],[16,17,2.0],[15,36,3.9],[20,21,2.0],[19,38,3.6],[18,39,5.2],[37,40,6.4],[35,41,10]];

// ---------- derived structures ----------
const heatData = [];
heatValues.forEach((row, r) => row.forEach((v, j) => heatData.push([j, r, v])));
const nodeY = heatRows.map((_, r) => r), nodeH = heatRows.map(() => 0);
dendroMerges.forEach(([a, b, h]) => { nodeY.push((nodeY[a] + nodeY[b]) / 2); nodeH.push(h); });
const dendroSegs = dendroMerges.map(([a, b, h]) => [nodeH[a], nodeY[a], h, nodeY[b], nodeH[b]]);

const NORMAL_COLOR = '#1b9e77', TUMOR_COLOR = '#666666';
const NORMAL_FILL = '#16805f', TUMOR_FILL = '#404040';
function violinRenderer(profiles, side, fill) {
  return function (params, api) {
    const i = api.value(0);
    const band = api.size([1, 0])[0];
    const cx = api.coord([i, 0])[0] + side * band * 0.16;
    const half = band * 0.175;
    const left = [], right = [];
    profiles[i].forEach(([y, w]) => {
      const py = api.coord([i, y])[1];
      left.push([cx - w * half, py]);
      right.unshift([cx + w * half, py]);
    });
    const my = api.coord([i, api.value(1)])[1];
    return { type: 'group', children: [
      { type: 'polygon', shape: { points: left.concat(right), smooth: 0.25 }, style: { fill: fill, stroke: '#0a0a0a', lineWidth: 1 } },
      { type: 'rect', shape: { x: cx - 1.7, y: my - 1.7, width: 3.4, height: 3.4, r: 0.8 }, style: { fill: '#fff' } }
    ] };
  };
}
function bracketRenderer(params, api) {
  const i = api.value(0), top = api.value(1);
  const band = api.size([1, 0])[0];
  const c = api.coord([i, top]);
  const ty = api.coord([i, top + 0.022])[1];
  return { type: 'group', children: [
    { type: 'line', shape: { x1: c[0] - band * 0.2, y1: c[1], x2: c[0] + band * 0.16, y2: c[1] }, style: { stroke: '#333', lineWidth: 0.8 } },
    { type: 'text', x: c[0], y: ty, style: { text: pLabels[i], fontSize: 5.5, fill: '#444', align: 'center', verticalAlign: 'middle', fontFamily: FONT } }
  ] };
}
function dendroRenderer(params, api) {
  const p1 = api.coord([api.value(0), api.value(1)]);
  const p2 = api.coord([api.value(2), api.value(1)]);
  const p3 = api.coord([api.value(2), api.value(3)]);
  const p4 = api.coord([api.value(4), api.value(3)]);
  return { type: 'polyline', shape: { points: [p1, p2, p3, p4] }, style: { stroke: '#444', lineWidth: 0.8, fill: null } };
}

const barSeries = cellTypes.map((name, k) => ({
  type: 'bar', name: name, xAxisIndex: 0, yAxisIndex: 0, stack: 'A', barCategoryGap: '0%',
  data: fractions[k].map((v, j) => v / sampleTotals[j] * 100),
  itemStyle: { color: cellColors[k], borderColor: '#111', borderWidth: 0.65 },
  emphasis: { disabled: true }
}));

const option = {
  animation: false,
  textStyle: { fontFamily: FONT },
  grid: [
    { left: 72, top: 4, width: 461, height: 225 },
    { left: 89.3, top: 319, width: 426.4, height: 183 },
    { left: 79, top: 298, width: 440, height: 211, show: true, borderColor: '#8c8c8c', borderWidth: 1.3, backgroundColor: 'transparent', z: 0 },
    { left: 49, top: 611, width: 441, height: 212 },
    { left: 49, top: 604, width: 441, height: 5 },
    { left: 22, top: 611, width: 27, height: 212 },
    { left: 634, top: 624, width: 7, height: 98 }
  ],
  xAxis: [
    { gridIndex: 0, type: 'category', data: samples, axisLabel: { rotate: 70, fontSize: 5, color: '#666', interval: 0, margin: 3 }, axisTick: { show: false }, axisLine: { lineStyle: { color: '#888', width: 2 } } },
    { gridIndex: 1, type: 'category', data: cellTypes, axisLabel: { rotate: 30, interval: 0, fontSize: 8.5, fontWeight: 'bold', color: '#000', margin: 10 }, axisLine: { show: false }, axisTick: { show: false } },
    { gridIndex: 2, type: 'value', show: false },
    { gridIndex: 3, type: 'category', data: samples, show: false },
    { gridIndex: 4, type: 'category', data: samples, show: false },
    { gridIndex: 5, type: 'value', min: 0, max: 10, inverse: true, show: false },
    { gridIndex: 6, type: 'value', show: false }
  ],
  yAxis: [
    { gridIndex: 0, type: 'value', min: 0, max: 100, interval: 20, offset: 19,
      axisLabel: { formatter: '{value}%', fontSize: 9, fontWeight: 'bold', color: '#444', margin: 3 },
      axisLine: { show: true, lineStyle: { color: '#555', width: 1.5 } }, axisTick: { show: false }, splitLine: { show: false },
      name: 'Relative percent', nameLocation: 'middle', nameGap: 25, nameMoveOverlap: false, nameTextStyle: { fontSize: 9.5, color: '#333' } },
    { gridIndex: 1, type: 'value', min: 0, max: 0.6, interval: 0.1, offset: 10.3,
      axisLine: { show: false }, axisTick: { show: true, length: 4, lineStyle: { color: '#666' } },
      axisLabel: { fontSize: 9, color: '#222', margin: 8 }, splitLine: { show: false },
      name: 'Fraction', nameLocation: 'middle', nameGap: 30, nameMoveOverlap: false, nameTextStyle: { fontSize: 10, color: '#222' } },
    { gridIndex: 2, type: 'value', show: false },
    { gridIndex: 3, type: 'category', data: heatRows, inverse: true, position: 'right', axisLine: { show: false }, axisTick: { show: false },
      axisLabel: { interval: 0, fontSize: 8.5, fontWeight: 'bold', color: '#111', margin: 6 } },
    { gridIndex: 4, type: 'value', min: 0, max: 1, show: false },
    { gridIndex: 5, type: 'value', min: -0.5, max: 21.5, inverse: true, show: false },
    { gridIndex: 6, type: 'value', min: -6.22, max: -0.78, position: 'right', axisLine: { show: false }, axisTick: { show: false }, splitLine: { show: false },
      axisLabel: { showMinLabel: false, showMaxLabel: false, fontSize: 8.5, fontWeight: 'bold', color: '#111', margin: 4 } }
  ],
  legend: [
    { data: cellTypes, left: 546, top: 6, padding: 0, orient: 'vertical', icon: 'rect', itemWidth: 5, itemHeight: 5, itemGap: -1, selectedMode: false,
      itemStyle: { borderWidth: 0 }, textStyle: { fontSize: 8.5, fontWeight: 'bold', color: '#111', lineHeight: 8, padding: [0, 0, 0, 7] } },
    { data: [{ name: 'Normal', itemStyle: { color: NORMAL_COLOR } }, { name: 'Tumor', itemStyle: { color: TUMOR_COLOR } }],
      left: 455, top: 304, padding: 0, orient: 'vertical', icon: 'rect', itemWidth: 21, itemHeight: 3, itemGap: 2, selectedMode: false,
      textStyle: { fontSize: 10, color: '#222', lineHeight: 10, padding: [0, 0, 0, 2] } }
  ],
  visualMap: [
    { type: 'continuous', seriesIndex: 25, min: -6.22, max: -0.78, calculable: false, left: 634, top: 624, itemWidth: 7, itemHeight: 98,
      padding: 0, inRange: { color: ['#00ee00', '#ffffff', '#f5821f'] }, hoverLink: false }
  ],
  graphic: [
    { type: 'text', left: 2, top: 2, style: { text: 'A', font: 'bold 13px ' + FONT, fill: '#000' } },
    { type: 'text', left: 2, top: 299, style: { text: 'B', font: 'bold 13px ' + FONT, fill: '#000' } },
    { type: 'text', left: 2, top: 597, style: { text: 'C', font: 'bold 13px ' + FONT, fill: '#000' } },
    { type: 'rect', left: 636, top: 750, shape: { width: 3.5, height: 8.5 }, style: { fill: '#1f9a85' } },
    { type: 'rect', left: 636, top: 758.5, shape: { width: 3.5, height: 8.5 }, style: { fill: '#d4600c' } },
    { type: 'text', left: 643, top: 749, style: { text: 'Normal', font: 'bold 8.5px ' + FONT, fill: '#111' } },
    { type: 'text', left: 643, top: 758, style: { text: 'Tumor', font: 'bold 8.5px ' + FONT, fill: '#111' } }
  ],
  series: barSeries.concat([
    { type: 'custom', name: 'Normal', xAxisIndex: 1, yAxisIndex: 1, data: medianNormal.map((m, i) => [i, m]), itemStyle: { color: NORMAL_COLOR },
      renderItem: violinRenderer(violinNormal, -1, NORMAL_FILL), z: 3 },
    { type: 'custom', name: 'Tumor', xAxisIndex: 1, yAxisIndex: 1, data: medianTumor.map((m, i) => [i, m]), itemStyle: { color: TUMOR_COLOR },
      renderItem: violinRenderer(violinTumor, 1, TUMOR_FILL), z: 3 },
    { type: 'custom', name: 'p-values', xAxisIndex: 1, yAxisIndex: 1, data: bracketTop.map((t, i) => [i, t]), renderItem: bracketRenderer, z: 4 },
    { type: 'heatmap', name: 'heat', xAxisIndex: 3, yAxisIndex: 3, data: heatData, progressive: 0, emphasis: { disabled: true } },
    { type: 'bar', name: 'group', xAxisIndex: 4, yAxisIndex: 4, barCategoryGap: '0%',
      data: sampleGroup.map(g => ({ value: 1, itemStyle: { color: g === 'Normal' ? '#1f9a85' : '#d4600c', borderColor: g === 'Normal' ? '#1f9a85' : '#d4600c', borderWidth: 0.6 } })) },
    { type: 'custom', name: 'dendrogram', xAxisIndex: 5, yAxisIndex: 5, data: dendroSegs, renderItem: dendroRenderer, encode: { x: [0, 2, 4], y: [1, 3] } }
  ])
};
const chart = echarts.init(document.getElementById('c'));
chart.setOption(option);
</script></body></html>
